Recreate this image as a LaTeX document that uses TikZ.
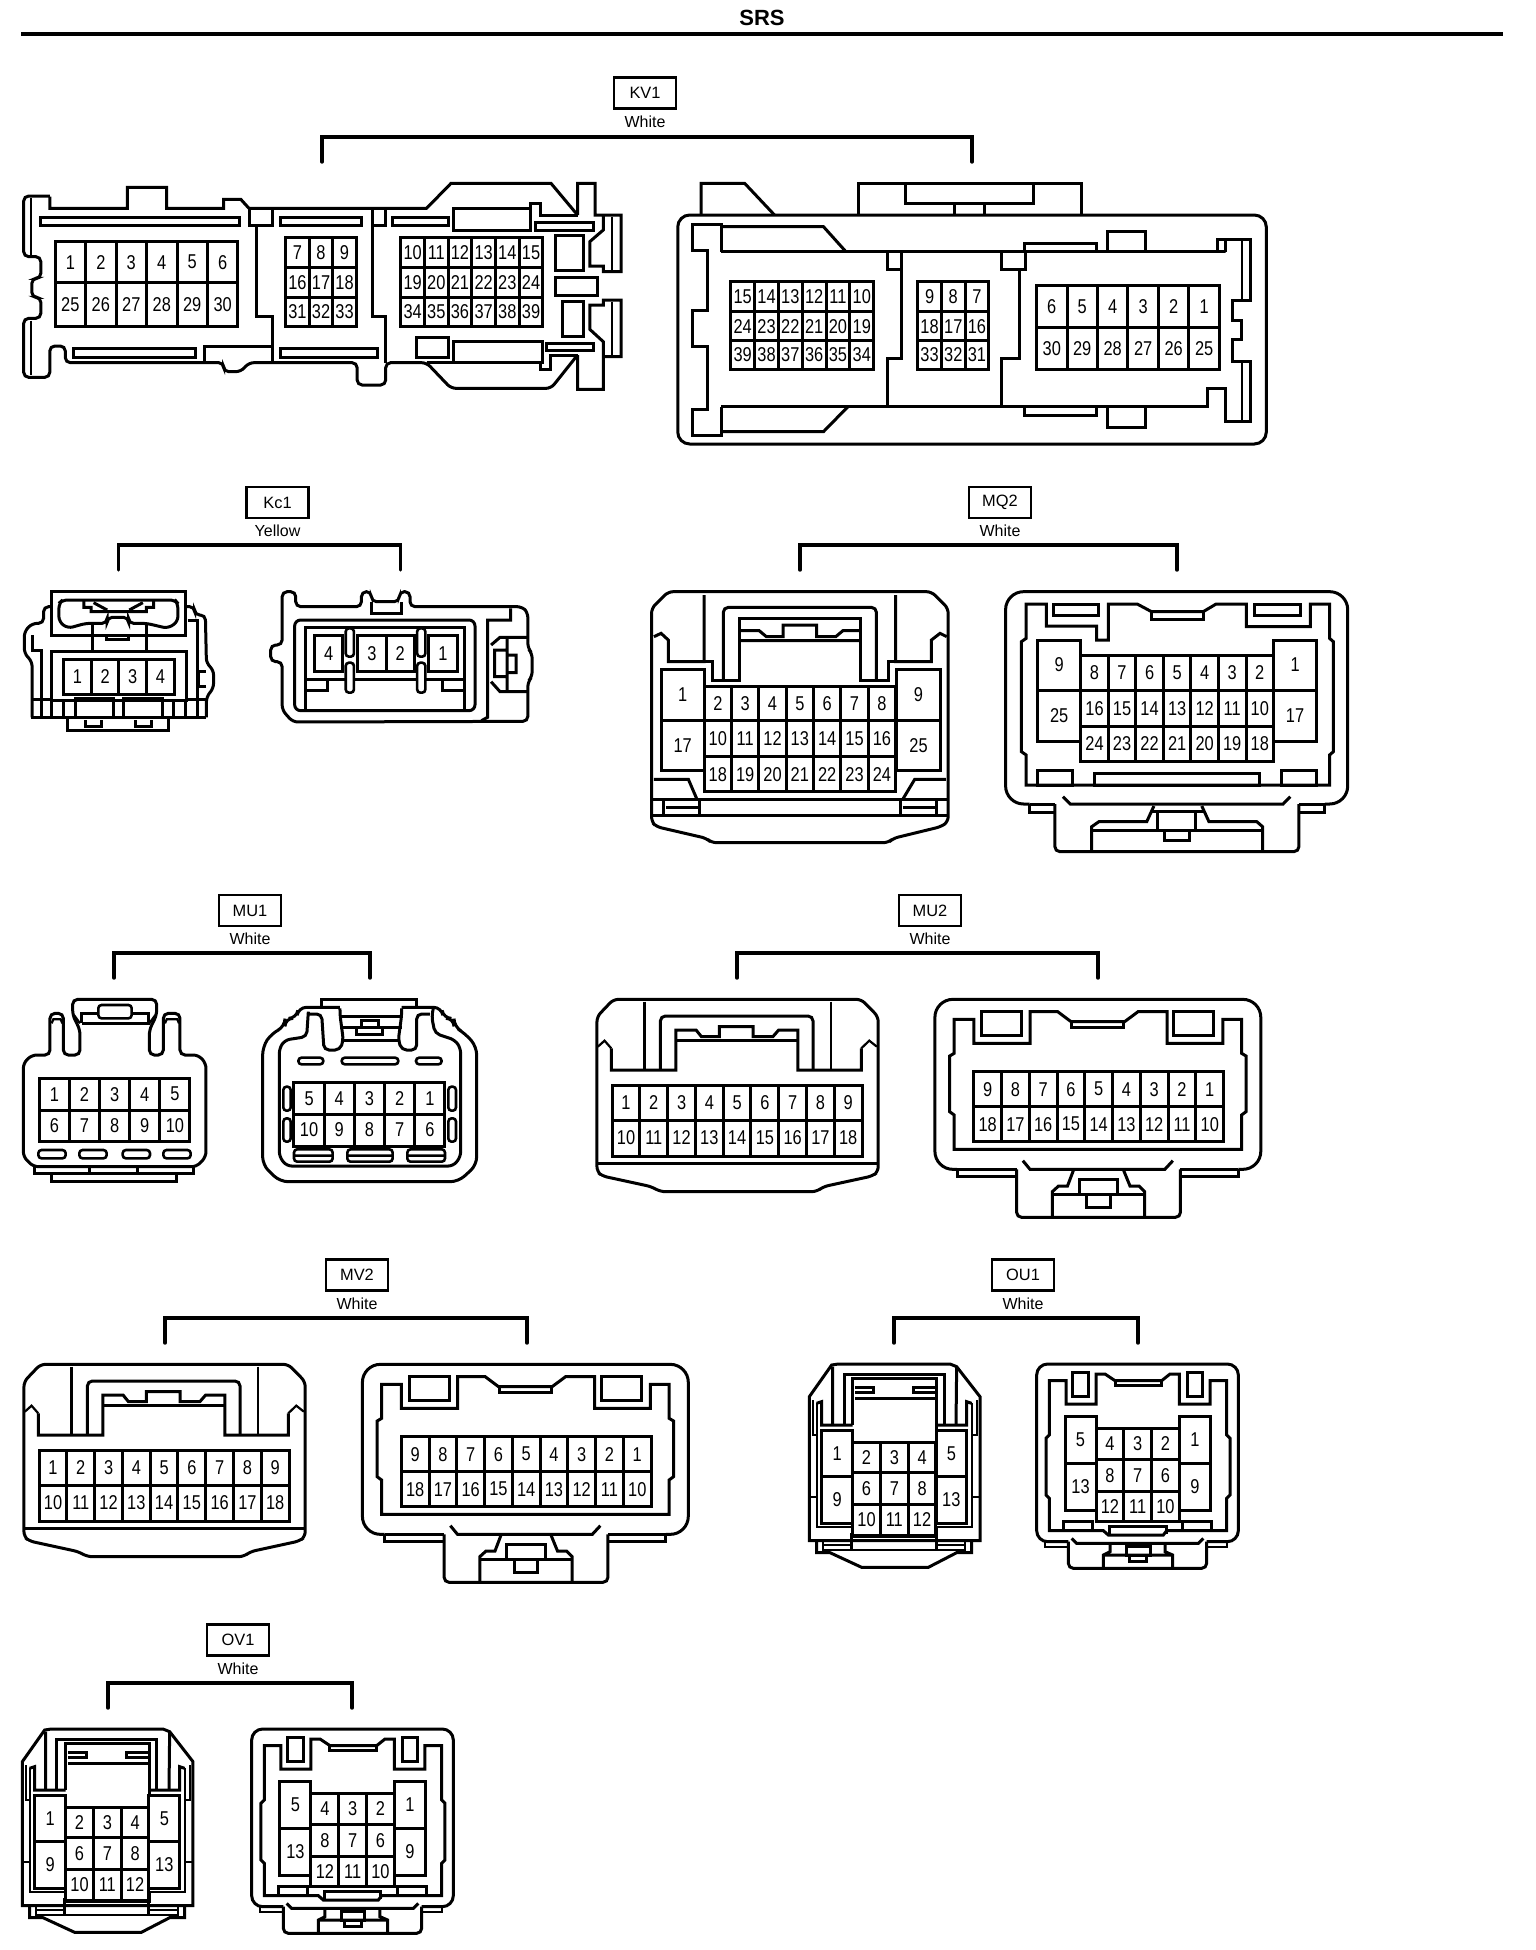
\documentclass[tikz,border=0pt]{standalone}
\usepackage{fontspec}
\setmainfont{Liberation Sans}
\newfontfamily\pinfont[FakeStretch=0.82]{Liberation Sans}
\usetikzlibrary{positioning}
\tikzset{
  wall/.style={line width=1.5pt,line join=miter},
  fine/.style={line width=1.1pt},
  body/.style={wall,rounded corners=2.5pt},
  oval/.style={line width=1.3pt,rounded corners=1.6pt},
  pinnum/.style={inner sep=0pt,font=\pinfont\fontsize{10}{10}\selectfont},
  tagbox/.style={draw,line width=1.3pt,minimum width=31pt,minimum height=15.5pt,inner sep=0pt,font=\fontsize{8.2}{9}\selectfont},
  colname/.style={inner sep=0pt,font=\fontsize{8}{9}\selectfont},
  bracket/.style={line width=1.7pt,line cap=round},
  zoomA/.style={xscale=.40816,yscale=.33333},
  zoomK/.style={xscale=.35714,yscale=.33333},
  zoomQ/.style={xscale=.47847,yscale=.33333},
  zoomU/.style={xscale=.33333,yscale=.33333},
  zoomN/.style={xscale=.44643,yscale=.33333}
}
% one row of pin cavities
\newcommand{\pinrow}[6]{%
  \foreach \n [count=\i] in {#6}{
    \draw[wall] ({#2+(\i-1)*#3},#4) rectangle ({#2+\i*#3},#5);
    \node[pinnum] (#1-\n) at ({#2+(\i-.5)*#3},{(#4+#5)/2}) {\n};
  }}
% connector code, colour and bracket
\newcommand{\tagged}[8]{%
  \node[tagbox] (#1) at (#2,#3) {#4};
  \node[colname,below=2.8pt of #1] (#1col) {#5};
  \coordinate (#1l) at (#6,#8);
  \coordinate (#1r) at (#7,#8);
  \draw[bracket] (#1l) -- ++(0,-25) -| (#1r);}
% nine-way pairs, MU2 and MV2
\newcommand{\ninefront}[3]{%
\begin{scope}[shift={(#2,#3)},zoomN]
\draw[body] (75,328) -- (630,328) -- (668,380) -- (668,845) -- (655,858) -- (545,890) -- (530,905) -- (180,905) -- (160,890) -- (50,858) -- (38,845) -- (38,380) -- cycle;
\draw[wall] (38,820) -- (668,820);
\draw[oval] (145,335) -- (145,540) (562,335) -- (562,540);
\draw[body] (180,540) -- (180,378) -- (522,378) -- (522,540);
\draw[wall] (70,475) -- (70,540) -- (215,540) -- (215,420) -- (260,420) -- (272,440) -- (312,440) -- (312,410) -- (388,410) -- (388,440) -- (432,440) -- (445,420) -- (488,420) -- (488,540) -- (630,540) -- (630,475);
\draw[wall] (215,452) -- (488,452);
\draw[fine] (70,475) -- (55,452) -- (40,470) (630,475) -- (648,452) -- (665,470);
\pinrow{#1}{72}{62.2}{585}{690}{1,2,3,4,5,6,7,8,9}
\pinrow{#1}{72}{62.2}{690}{798}{10,11,12,13,14,15,16,17,18}
\end{scope}}
\newcommand{\nineback}[3]{%
\begin{scope}[shift={(#2,#3)},zoomN]
\draw[wall,rounded corners=9pt] (845,838) -- (795,838) -- (795,328) -- (1525,328) -- (1525,838) -- (1475,838);
\draw[wall] (845,838) -- (845,860) -- (978,860) (1345,860) -- (1475,860) -- (1475,838) (845,838) -- (978,838) (1345,838) -- (1475,838);
\draw[body] (978,838) -- (978,982) -- (1345,982) -- (1345,838);
\draw[wall] (838,388) -- (882,388) -- (882,460) -- (1008,460) -- (1008,365) -- (1070,365) -- (1100,395) -- (1220,395) -- (1250,365) -- (1315,365) -- (1315,460) -- (1440,460) -- (1440,388) -- (1482,388) -- (1482,490) -- (1492,498) -- (1492,665) -- (1482,675) -- (1482,778) -- (838,778) -- (838,675) -- (828,665) -- (828,498) -- (838,490) -- cycle;
\draw[wall] (900,365) rectangle (990,435) (1330,365) rectangle (1420,435);
\draw[wall] (1102,395) -- (1102,412) -- (1218,412) -- (1218,395);
\pinrow{#1}{882}{62.2}{545}{650}{9,8,7,6,5,4,3,2,1}
\pinrow{#1}{882}{62.2}{650}{755}{18,17,16,15,14,13,12,11,10}
\draw[wall] (992,812) -- (1008,838) -- (1310,838) -- (1328,812);
\draw[wall] (1105,842) -- (1092,888) -- (1072,888) -- (1058,905) -- (1058,982);
\draw[wall] (1218,842) -- (1232,888) -- (1252,888) -- (1265,905) -- (1265,982);
\draw[wall] (1058,912) -- (1265,912) (1118,912) -- (1118,868) -- (1205,868) -- (1205,912);
\draw[wall] (1135,912) -- (1135,952) -- (1188,952) -- (1188,912);
\end{scope}}
% twelve-plus-four pairs, OU1 and OV1
\newcommand{\blockfront}[3]{%
\begin{scope}[shift={(#2,#3)},zoomU]
\draw[wall] (155,345) -- (175,342) -- (510,342) -- (530,350) -- (600,440) -- (600,872) -- (88,872) -- (88,440) -- cycle;
\draw[wall] (110,872) -- (110,908) -- (150,908) -- (245,952) -- (445,952) -- (530,908) -- (575,908) -- (575,872);
\draw[fine] (130,872) -- (130,900) -- (555,900) -- (555,872) (130,885) -- (215,885) (468,885) -- (555,885);
\draw[wall] (215,850) -- (215,900) (468,850) -- (468,900);
\draw[wall] (158,350) -- (158,525) (530,350) -- (528,525);
\draw[wall] (192,525) -- (192,372) -- (492,372) -- (492,525);
\draw[wall] (218,525) -- (218,385) -- (470,385) -- (470,540);
\draw[wall] (225,445) -- (465,445) (225,428) -- (280,428) -- (280,412) -- (225,412) (465,428) -- (400,428) -- (400,412) -- (465,412);
\draw[fine] (98,450) -- (98,555) -- (110,555) -- (110,460) (590,450) -- (590,555) -- (575,555) -- (575,460);
\draw[wall] (110,460) -- (125,455) -- (125,525) -- (218,525) (575,460) -- (560,455) -- (560,525) -- (470,525);
\draw[fine] (110,528) -- (110,830) -- (215,830) -- (215,862) -- (470,862) -- (470,830) -- (575,830) -- (575,528) (88,740) -- (110,740) (575,740) -- (600,740);
\pinrow{#1a}{125}{93}{540}{680}{1}
\pinrow{#1a}{125}{93}{680}{820}{9}
\pinrow{#1b}{468}{92}{540}{680}{5}
\pinrow{#1b}{468}{92}{680}{820}{13}
\pinrow{#1}{218}{83.3}{578}{668}{2,3,4}
\pinrow{#1}{218}{83.3}{668}{762}{6,7,8}
\pinrow{#1}{218}{83.3}{762}{855}{10,11,12}
\end{scope}}
\newcommand{\blockback}[3]{%
\begin{scope}[shift={(#2,#3)},zoomU]
\draw[wall,rounded corners=5.5pt] (865,875) -- (770,875) -- (770,342) -- (1375,342) -- (1375,875) -- (1280,875);
\draw[fine] (795,875) -- (795,890) -- (865,890) (1282,890) -- (1342,890) -- (1342,875);
\draw[body] (865,875) -- (865,955) -- (1280,955) -- (1280,875);
\draw[wall] (808,392) -- (858,392) -- (858,462) -- (948,462) -- (948,372) -- (975,372) -- (1005,392) -- (1145,392) -- (1170,372) -- (1198,372) -- (1198,462) -- (1290,462) -- (1290,392) -- (1340,392) -- (1340,555) -- (1350,565) -- (1350,735) -- (1340,745) -- (1340,842) -- (1160,842) -- (1150,855) -- (985,855) -- (970,842) -- (808,842) -- (808,745) -- (798,735) -- (798,565) -- (808,555) -- cycle;
\draw[wall] (878,368) rectangle (925,440) (1222,368) rectangle (1268,440);
\draw[wall] (1005,392) -- (1005,405) -- (1145,405) -- (1145,392);
\pinrow{#1a}{855}{93}{500}{640}{5}
\pinrow{#1a}{855}{93}{640}{782}{13}
\pinrow{#1b}{1198}{94}{500}{640}{1}
\pinrow{#1b}{1198}{94}{640}{782}{9}
\pinrow{#1}{948}{83.3}{535}{628}{4,3,2}
\pinrow{#1}{948}{83.3}{628}{725}{8,7,6}
\pinrow{#1}{948}{83.3}{725}{815}{12,11,10}
\draw[wall] (850,842) -- (850,815) -- (938,815) -- (938,842) (1208,842) -- (1208,815) -- (1295,815) -- (1295,842) (988,852) -- (988,828) -- (1158,828) -- (1158,852);
\draw[wall] (875,865) -- (890,880) -- (1255,880) -- (1270,865);
\draw[wall] (990,885) -- (990,905) -- (970,915) -- (970,955) (1155,885) -- (1155,905) -- (1178,915) -- (1178,955) (970,915) -- (1178,915);
\draw[wall] (1040,890) rectangle (1110,915) (1048,915) rectangle (1100,935);
\end{scope}}
\begin{document}
\begin{tikzpicture}[x=.5pt,y=-.5pt]
\useasboundingbox (0,0) rectangle (1536,1950);
\node[inner sep=0pt,font=\bfseries\fontsize{11}{12}\selectfont] (title) at (762,18) {SRS};
\coordinate (rulel) at (21,33.5);
\coordinate (ruler) at (1503,33.5);
\draw[line width=2pt] (rulel) -- (ruler);
%
% connector codes
\tagged{kv1}{645}{93}{KV1}{White}{322}{972}{162}
\tagged{kc1}{277.5}{502.5}{Kc1}{Yellow}{118.6}{400.7}{570}
\tagged{mq2}{1000}{502.5}{MQ2}{White}{800}{1177}{570}
\tagged{mu1}{250}{910.5}{MU1}{White}{114}{370}{978}
\tagged{mu2}{930}{910.5}{MU2}{White}{737}{1098}{978}
\tagged{mv2}{357}{1275}{MV2}{White}{165}{527}{1343}
\tagged{ou1}{1023}{1275}{OU1}{White}{894}{1138}{1343}
\tagged{ov1}{238}{1640}{OV1}{White}{108}{352}{1708}
%
% KV1 front
\begin{scope}[shift={(0,60)},zoomA]
\draw[wall] (122,410) -- (122,445) -- (312,445) -- (312,382) -- (408,382) -- (408,445) -- (548,445) -- (548,418) -- (590,418) -- (610,445) -- (1045,445) -- (1105,370) -- (1350,370) -- (1415,465);
\draw[body] (122,408) -- (58,408) -- (58,590) -- (100,590) -- (100,655) -- (78,655) -- (78,712) -- (100,712) -- (100,775) -- (58,775) -- (58,952) -- (122,952) -- (122,858) -- (160,858) -- (160,908) -- (548,908) -- (548,935) -- (590,935) -- (610,908) -- (875,908) -- (875,975) -- (945,975) -- (945,908) -- (1045,908) -- (1105,985) -- (1350,985) -- (1415,885);
\draw[fine] (75,415) -- (75,585) (75,782) -- (75,945);
\draw[wall] (1415,465) -- (1415,370) -- (1458,370) -- (1458,465) -- (1522,465) -- (1522,635) -- (1478,635) -- (1478,618) -- (1445,618) -- (1445,545) -- (1478,510) -- (1478,465);
\draw[wall] (1415,885) -- (1415,988) -- (1478,988) -- (1478,845) -- (1445,808) -- (1445,735) -- (1478,735) -- (1478,720) -- (1522,720) -- (1522,890) -- (1478,890);
\draw[fine] (1500,470) -- (1500,630) (1500,725) -- (1500,885);
\draw[wall] (1300,445) -- (1300,430) -- (1325,430) -- (1325,465) -- (1415,465);
\draw[wall] (1045,908) -- (1325,908) -- (1325,928) -- (1348,928) -- (1348,885) -- (1415,885);
\draw[wall] (612,445) rectangle (668,495) (912,445) rectangle (945,495);
\draw[wall] (628,495) -- (628,768) -- (668,768) -- (668,908);
\draw[wall] (912,495) -- (912,768) -- (945,768) -- (945,908);
\draw[wall] (100,472) rectangle (588,497) (688,472) rectangle (885,497) (962,472) rectangle (1098,497) (1112,445) rectangle (1300,510) (1312,487) rectangle (1455,510);
\draw[wall] (1360,525) rectangle (1430,630) (1360,652) rectangle (1465,706) (1378,725) rectangle (1430,830);
\draw[wall] (180,865) rectangle (480,893) (688,865) rectangle (925,893) (500,908) -- (500,858) -- (668,858);
\draw[wall] (1020,832) rectangle (1098,893) (1112,845) rectangle (1328,908) (1338,850) rectangle (1455,870);
\pinrow{kva}{135}{74.67}{545}{668}{1,2,3,4,5,6}
\pinrow{kva}{135}{74.67}{668}{800}{25,26,27,28,29,30}
\pinrow{kvb}{700}{57.67}{533}{622}{7,8,9}
\pinrow{kvb}{700}{57.67}{622}{712}{16,17,18}
\pinrow{kvb}{700}{57.67}{712}{798}{31,32,33}
\pinrow{kvc}{982}{58}{533}{622}{10,11,12,13,14,15}
\pinrow{kvc}{982}{58}{622}{712}{19,20,21,22,23,24}
\pinrow{kvc}{982}{58}{712}{798}{34,35,36,37,38,39}
\end{scope}
%
% KV1 back
\begin{scope}[shift={(650,100)},zoomA]
\draw[wall,rounded corners=6pt] (68,345) rectangle (1510,1032);
\draw[wall] (125,345) -- (125,250) -- (232,250) -- (305,345);
\draw[wall] (510,345) -- (510,250) -- (1058,250) -- (1058,345) (625,250) -- (625,310) -- (940,310) -- (940,250) (745,310) -- (745,345) (820,310) -- (820,345);
\draw[wall] (175,380) -- (425,380) -- (480,455) (175,995) -- (425,995) -- (485,920);
\draw[wall] (175,455) -- (175,372) -- (105,372) -- (105,450) -- (140,450) -- (140,632) -- (105,632) -- (105,740) -- (140,740) -- (140,928) -- (105,928) -- (105,1005) -- (175,1005) -- (175,920);
\draw[wall] (175,455) -- (1410,455) -- (1390,455) -- (1390,418) -- (1470,418) -- (1470,600) -- (1428,600) -- (1428,660) -- (1450,660) -- (1450,718) -- (1428,718) -- (1428,785) -- (1470,785) -- (1470,965) -- (1410,965) -- (1410,865) -- (1365,865) -- (1365,918) -- (175,918);
\draw[fine] (1450,420) -- (1450,600) (1450,785) -- (1450,965) (1410,420) -- (1410,455);
\draw[wall] (582,455) rectangle (615,508) (860,455) rectangle (920,508);
\draw[wall] (615,508) -- (615,775) -- (582,775) -- (582,918) (905,508) -- (905,775) -- (860,775) -- (860,918);
\draw[wall] (918,455) -- (918,430) -- (1095,430) -- (1095,455) (1120,455) -- (1120,395) -- (1215,395) -- (1215,455);
\draw[wall] (918,918) -- (918,945) -- (1095,945) -- (1095,918) (1120,918) -- (1120,982) -- (1215,982) -- (1215,918);
\pinrow{kvd}{198}{58.33}{545}{635}{15,14,13,12,11,10}
\pinrow{kvd}{198}{58.33}{635}{722}{24,23,22,21,20,19}
\pinrow{kvd}{198}{58.33}{722}{808}{39,38,37,36,35,34}
\pinrow{kve}{656}{58}{545}{635}{9,8,7}
\pinrow{kve}{656}{58}{635}{722}{18,17,16}
\pinrow{kve}{656}{58}{722}{808}{33,32,31}
\pinrow{kvf}{947}{74.67}{556}{682}{6,5,4,3,2,1}
\pinrow{kvf}{947}{74.67}{682}{808}{30,29,28,27,26,25}
\end{scope}
%
% Kc1 pair
\begin{scope}[shift={(0,480)},zoomK]
\draw[wall] (145,335) rectangle (520,465);
\draw[body] (175,360) -- (490,360) -- (498,370) -- (498,425) -- (470,445) -- (410,430) -- (360,430) -- (360,412) -- (300,412) -- (300,430) -- (240,430) -- (190,445) -- (165,425) -- (165,370) -- cycle;
\draw[wall] (235,362) -- (235,382) -- (255,382) -- (255,395) -- (410,395) -- (410,382) -- (430,382) -- (430,362) (262,368) -- (300,390) (400,368) -- (362,390);
\draw[wall] (258,430) -- (258,512) (410,430) -- (410,512) (298,462) -- (298,478) -- (360,478) -- (360,462);
\draw[body] (145,380) -- (122,380) -- (122,430) -- (90,430) -- (68,455) -- (68,520) -- (90,545) -- (90,712);
\draw[wall] (90,465) -- (90,512) -- (115,512) -- (115,712);
\draw[body] (520,380) -- (545,380) -- (545,405) -- (575,405) -- (578,550) -- (598,570) -- (598,625) -- (578,650) -- (578,712);
\draw[wall] (525,420) -- (552,420) -- (552,712) (555,575) -- (578,575) (578,618) -- (555,618) -- (555,575);
\draw[wall] (145,515) rectangle (522,660);
\draw[wall] (145,660) -- (145,712) (178,660) -- (178,712) (485,660) -- (485,712) (518,660) -- (518,712) (90,658) -- (145,658) (522,658) -- (578,658);
\draw[wall] (88,712) -- (578,712);
\draw[wall] (210,655) rectangle (318,712) (345,655) rectangle (455,712);
\draw[wall] (190,712) -- (190,750) -- (472,750) -- (472,712) (238,720) -- (238,738) -- (285,738) -- (285,720) (378,720) -- (378,738) -- (425,738) -- (425,720);
\pinrow{kca}{178}{77.5}{538}{642}{1,2,3,4}
%
\draw[body] (790,335) -- (828,335) -- (828,380) -- (1012,380) -- (1012,335) -- (1040,335) -- (1040,365) -- (1118,365) -- (1118,335) -- (1148,335) -- (1148,380) -- (1462,380) -- (1478,398) -- (1478,505) -- (1490,520) -- (1490,590) -- (1478,605) -- (1478,724) -- (820,726) -- (790,690) -- (790,545) -- (758,545) -- (758,495) -- (790,495) -- cycle;
\draw[wall] (1040,365) -- (1040,400) -- (1125,400) -- (1125,365);
\draw[wall,rounded corners=3pt] (825,420) rectangle (1330,692);
\draw[wall] (855,692) -- (855,442) -- (1300,442) -- (1300,692) (855,598) -- (1300,598) (855,632) -- (918,632) -- (918,598) (1300,632) -- (1238,632) -- (1238,598);
\foreach \slotx in {968,1168}
\draw[oval,fill=white] (\slotx,445) rectangle (\slotx+23,530) (\slotx,548) rectangle (\slotx+23,638);
\pinrow{kcb}{880}{80}{465}{575}{4}
\pinrow{kcb}{1002}{79}{465}{575}{3,2}
\pinrow{kcb}{1200}{80}{465}{575}{1}
\draw[wall] (1430,385) -- (1430,420) -- (1365,420) -- (1365,712) -- (1348,722);
\draw[wall] (1375,495) -- (1400,472) -- (1478,472) (1375,605) -- (1400,635) -- (1478,635) (1385,510) rectangle (1420,590) (1420,525) rectangle (1445,578) (1420,590) -- (1420,635) (1420,472) -- (1420,510);
\end{scope}
%
% MQ2 pair
\begin{scope}[shift={(630,480)},zoomQ]
\draw[body] (80,335) -- (630,335) -- (665,385) -- (665,1025) -- (650,1040) -- (550,1075) -- (540,1088) -- (170,1088) -- (160,1075) -- (55,1040) -- (45,1025) -- (45,385) -- cycle;
\draw[wall] (45,1005) -- (665,1005) (48,958) -- (662,958);
\draw[wall] (155,345) -- (155,545) -- (80,545) -- (80,480) -- (65,460) -- (50,470);
\draw[wall] (555,345) -- (555,545) -- (630,545) -- (630,480) -- (648,460) -- (662,470);
\draw[body] (195,600) -- (195,382) -- (515,382) -- (515,600);
\draw[wall] (155,545) -- (172,545) -- (172,600) -- (228,600) -- (228,415) -- (482,415) -- (482,600) -- (540,600) -- (540,545) -- (555,545);
\draw[wall] (228,452) -- (270,452) -- (285,470) -- (320,470) -- (320,435) -- (390,435) -- (390,470) -- (430,470) -- (445,452) -- (482,452) (228,482) -- (482,482);
\pinrow{mqa}{65}{90}{568}{720}{1}
\pinrow{mqa}{65}{90}{720}{872}{17}
\pinrow{mqb}{558}{90}{568}{720}{9}
\pinrow{mqb}{558}{90}{720}{872}{25}
\pinrow{mqc}{155}{57.14}{618}{722}{2,3,4,5,6,7,8}
\pinrow{mqc}{155}{57.14}{722}{830}{10,11,12,13,14,15,16}
\pinrow{mqc}{155}{57.14}{830}{935}{18,19,20,21,22,23,24}
\draw[wall] (50,898) -- (122,898) -- (140,958) (660,898) -- (595,898) -- (570,958);
\draw[wall] (70,958) -- (70,1005) (75,982) -- (142,982) (145,958) -- (145,1005) (565,958) -- (565,1005) (570,982) -- (640,982) (640,958) -- (640,1005);
%
\draw[wall,rounded corners=9pt] (835,972) -- (785,972) -- (785,335) -- (1500,335) -- (1500,972) -- (1452,972);
\draw[wall] (835,972) -- (888,972) (835,972) -- (835,998) -- (888,998) (1398,972) -- (1452,972) -- (1452,998) -- (1398,998);
\draw[body] (888,972) -- (888,1115) -- (1398,1115) -- (1398,972);
\draw[wall] (828,372) -- (870,372) -- (870,438) -- (975,438) -- (975,480) -- (1000,480) -- (1000,372) -- (1060,372) -- (1090,395) -- (1198,395) -- (1225,372) -- (1288,372) -- (1288,440) -- (1422,440) -- (1422,372) -- (1462,372) -- (1462,475) -- (1470,485) -- (1470,815) -- (1462,825) -- (1462,915) -- (828,915) -- (828,825) -- (818,815) -- (818,485) -- (828,475) -- cycle;
\draw[wall] (885,372) rectangle (980,405) (1305,372) rectangle (1402,405) (1090,395) -- (1090,418) -- (1198,418) -- (1198,395);
\draw[wall] (852,870) rectangle (925,915) (970,880) rectangle (1316,915) (1362,870) rectangle (1435,915);
\pinrow{mqd}{852}{90}{480}{630}{9}
\pinrow{mqd}{852}{90}{630}{785}{25}
\pinrow{mqe}{1345}{90}{480}{630}{1}
\pinrow{mqe}{1345}{90}{630}{785}{17}
\pinrow{mqf}{942}{57.57}{525}{632}{8,7,6,5,4,3,2}
\pinrow{mqf}{942}{57.57}{632}{738}{16,15,14,13,12,11,10}
\pinrow{mqf}{942}{57.57}{738}{845}{24,23,22,21,20,19,18}
\draw[wall] (905,950) -- (920,972) -- (1365,972) -- (1380,950);
\draw[wall] (1095,978) -- (1080,1025) -- (980,1025) -- (965,1040) -- (965,1115) (1195,978) -- (1210,1025) -- (1310,1025) -- (1322,1040) -- (1322,1115);
\draw[wall] (965,1050) -- (1322,1050) (1090,995) -- (1200,995) (1102,995) -- (1102,1050) (1182,995) -- (1182,1050) (1118,1050) -- (1118,1082) -- (1170,1082) -- (1170,1050);
\end{scope}
%
% MU1 pair
\begin{scope}[shift={(0,890)},zoomU]
\draw[body] (70,520) -- (95,495) -- (150,495) -- (150,370) -- (190,370) -- (190,495) -- (240,495) -- (240,420) -- (218,375) -- (218,328) -- (470,328) -- (470,375) -- (448,420) -- (448,495) -- (490,495) -- (490,370) -- (540,370) -- (540,495) -- (595,495) -- (618,520) -- (618,800) -- (590,830) -- (100,830) -- (70,800) -- cycle;
\draw[wall] (245,400) -- (245,370) -- (295,370) (395,370) -- (445,370) -- (445,400) -- (245,400);
\draw[oval] (295,345) rectangle (395,385);
\draw[fine] (155,400) -- (160,388) -- (182,388) -- (187,400) (495,400) -- (500,388) -- (532,388) -- (537,400) (222,375) -- (240,400) (466,375) -- (448,400);
\draw[wall] (105,830) -- (105,850) -- (580,850) -- (580,830) (270,830) -- (270,850) (412,830) -- (412,850) (155,850) -- (155,875) -- (530,875) -- (530,850);
\foreach \slotx in {115,238,368,490}
\draw[oval] (\slotx,780) rectangle (\slotx+82,805);
\pinrow{mua}{118}{90.4}{565}{660}{1,2,3,4,5}
\pinrow{mua}{118}{90.4}{660}{755}{6,7,8,9,10}
%
\draw[wall,rounded corners=4pt] (1020,352) -- (895,352) -- (890,385) -- (855,385) -- (855,410) -- (815,430) -- (788,470) -- (788,825) -- (840,875) -- (1375,875) -- (1430,825) -- (1430,470) -- (1395,430) -- (1362,410) -- (1362,385) -- (1330,385) -- (1325,352) -- (1205,352);
\draw[wall] (965,352) -- (965,328) -- (1250,328) -- (1250,352);
\draw[body] (925,372) -- (965,372) -- (972,480) -- (1020,480) -- (1030,450) -- (1020,375) -- (1020,355);
\draw[body] (1290,372) -- (1250,372) -- (1250,480) -- (1205,480) -- (1195,450) -- (1205,375) -- (1205,355);
\draw[body] (925,365) -- (920,440) -- (855,450) -- (838,475) -- (838,800) -- (860,828) -- (1360,828) -- (1382,800) -- (1382,475) -- (1365,450) -- (1305,430) -- (1295,380) -- (1300,355);
\draw[wall] (1030,450) -- (1195,450) (1020,380) -- (1205,380) (1020,412) -- (1070,412) (1148,412) -- (1205,412) (1085,392) rectangle (1135,412) (1070,412) rectangle (1148,432);
\draw[oval] (895,503) rectangle (970,523) (1025,503) rectangle (1195,523) (1248,503) rectangle (1325,523);
\draw[oval] (850,590) rectangle (872,662) (850,685) rectangle (872,755) (1345,590) rectangle (1368,662) (1345,685) rectangle (1368,755);
\pinrow{mub}{882}{90.6}{578}{672}{5,4,3,2,1}
\pinrow{mub}{882}{90.6}{672}{768}{10,9,8,7,6}
\draw[oval] (882,778) rectangle (998,815) (1042,778) rectangle (1178,815) (1222,778) rectangle (1335,815) (882,797) -- (998,797) (1042,797) -- (1178,797) (1222,797) -- (1335,797);
\end{scope}
%
\ninefront{mua2}{580}{890}
\nineback{mub2}{580}{890}
\ninefront{mva}{7}{1255}
\nineback{mvb}{7.5}{1255}
\blockfront{oua}{780}{1250}
\blockback{oub}{780}{1250}
\blockfront{ova}{-7}{1615}
\blockback{ovb}{-5}{1615}
\end{tikzpicture}
\end{document}
